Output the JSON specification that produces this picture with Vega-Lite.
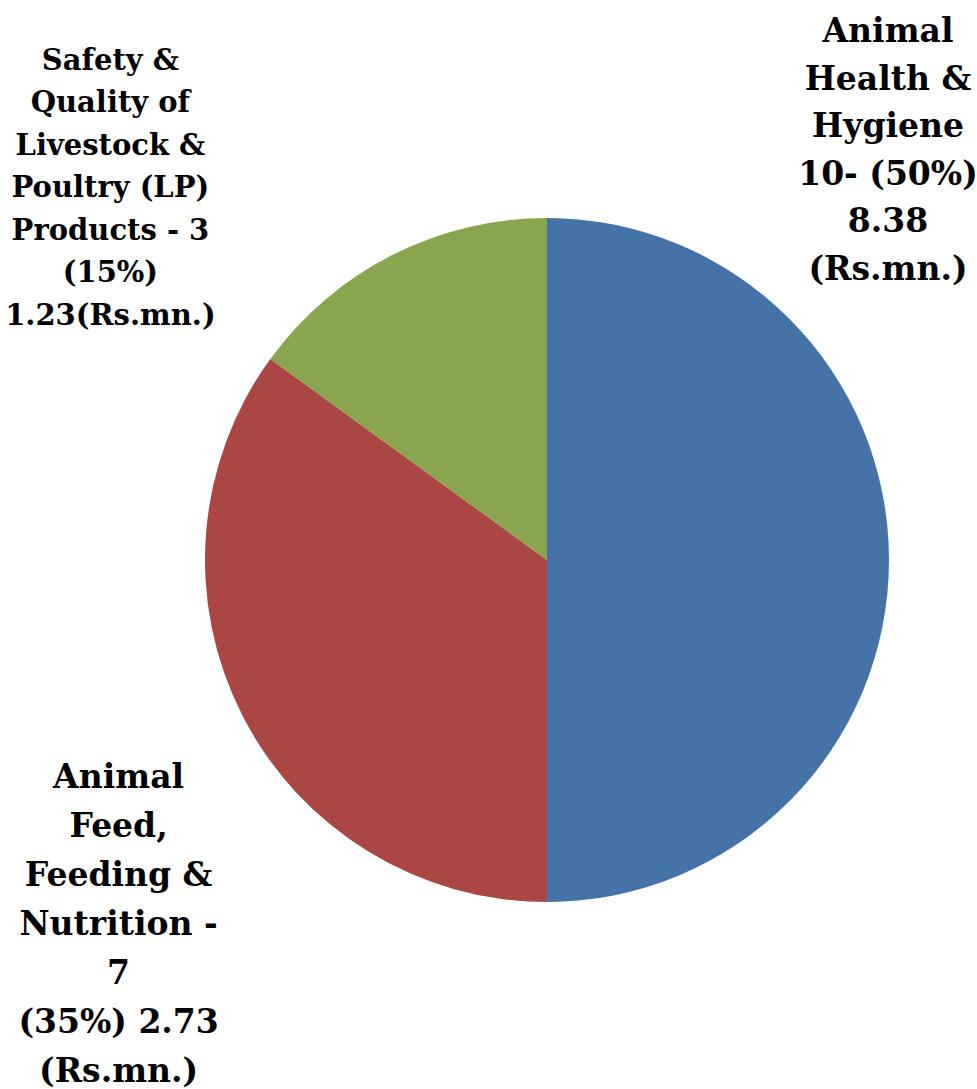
{
  "$schema": "https://vega.github.io/schema/vega-lite/v6.json",
  "width": 684,
  "height": 684,
  "autosize": {"type": "none"},
  "padding": {"left": 205, "top": 218, "right": 88, "bottom": 187},
  "background": "white",
  "view": {"stroke": null},
  "data": {
    "values": [
      {"topic": "Animal Health & Hygiene", "share": 50, "order": 1, "label": "Animal\nHealth &\nHygiene\n10- (50%)\n8.38\n(Rs.mn.)"},
      {"topic": "Animal Feed, Feeding & Nutrition", "share": 35, "order": 2, "label": "Animal\nFeed,\nFeeding &\nNutrition -\n7\n(35%) 2.73\n(Rs.mn.)"},
      {"topic": "Safety & Quality of Livestock & Poultry (LP) Products", "share": 15, "order": 3, "label": "Safety &\nQuality of\nLivestock &\nPoultry (LP)\nProducts - 3\n(15%)\n1.23(Rs.mn.)"}
    ]
  },
  "encoding": {
    "theta": {"field": "share", "type": "quantitative", "stack": true},
    "order": {"field": "order", "type": "quantitative"}
  },
  "layer": [
    {
      "mark": {"type": "arc", "stroke": null},
      "encoding": {
        "color": {
          "field": "topic",
          "type": "nominal",
          "scale": {
            "domain": ["Animal Health & Hygiene", "Animal Feed, Feeding & Nutrition", "Safety & Quality of Livestock & Poultry (LP) Products"],
            "range": ["#4572A7", "#AA4643", "#89A54E"]
          },
          "legend": null
        }
      }
    },
    {
      "mark": {"type": "text", "radius": 400, "dx": -59, "dy": -518, "align": "center", "baseline": "alphabetic", "font": "DejaVu Serif", "fontWeight": "bold", "fontSize": 33, "lineHeight": 47.5, "lineBreak": "\n", "color": "black"},
      "encoding": {"text": {"condition": {"test": "datum.order === 1", "field": "label", "type": "nominal"}, "value": ""}}
    },
    {
      "mark": {"type": "text", "radius": 400, "dx": -72, "dy": 46, "align": "center", "baseline": "alphabetic", "font": "DejaVu Serif", "fontWeight": "bold", "fontSize": 33, "lineHeight": 49, "lineBreak": "\n", "color": "black"},
      "encoding": {"text": {"condition": {"test": "datum.order === 2", "field": "label", "type": "nominal"}, "value": ""}}
    },
    {
      "mark": {"type": "text", "radius": 400, "dx": -255, "dy": -134, "align": "center", "baseline": "alphabetic", "font": "DejaVu Serif", "fontWeight": "bold", "fontSize": 29, "lineHeight": 42.5, "lineBreak": "\n", "color": "black"},
      "encoding": {"text": {"condition": {"test": "datum.order === 3", "field": "label", "type": "nominal"}, "value": ""}}
    }
  ]
}
